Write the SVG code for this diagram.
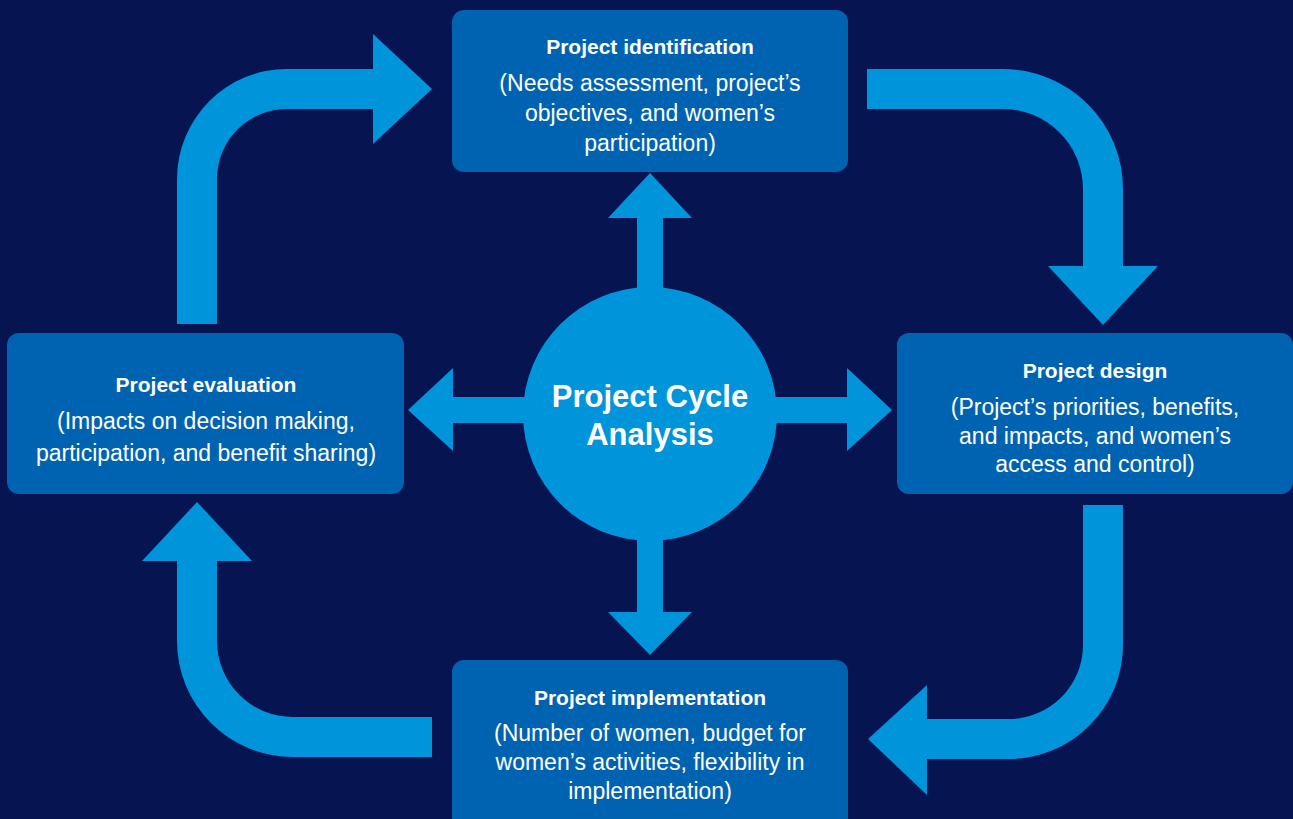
<svg xmlns="http://www.w3.org/2000/svg" width="1293" height="819" viewBox="0 0 1293 819">
<style>
.bg{fill:#061452}
.box{fill:#0063b1}
.arr{fill:#0095da}
.hub{fill:#0095da}
.t{font-family:"Liberation Sans",Arial,sans-serif;font-weight:bold;font-size:21px;fill:#ffffff;text-anchor:middle}
.b{font-family:"Liberation Sans",Arial,sans-serif;font-size:23px;fill:#ffffff;text-anchor:middle}
.c{font-family:"Liberation Sans",Arial,sans-serif;font-weight:bold;font-size:31px;fill:#ffffff;text-anchor:middle}
</style>
<rect class="bg" x="0" y="0" width="1293" height="819"/>
<g id="connectors">
<path class="arr" d="M177,324 L177,179 A110,110 0 0 1 287,69 L373,69 L373,34 L432,89 L373,144 L373,109 L287,109 A70,70 0 0 0 217,179 L217,324 Z"/>
<path class="arr" d="M867,69 L1003,69 A120,120 0 0 1 1123,189 L1123,266 L1158,266 L1103,325 L1048,266 L1083,266 L1083,189 A80,80 0 0 0 1003,109 L867,109 Z"/>
<path class="arr" d="M1083,505 L1123,505 L1123,645 A114,114 0 0 1 1009,759 L927,759 L927,795 L868,739 L927,685 L927,719 L1009,719 A74,74 0 0 0 1083,645 Z"/>
<path class="arr" d="M432,717 L432,757 L293,757 A116,116 0 0 1 177,641 L177,561 L142,561 L197,502 L252,561 L217,561 L217,641 A76,76 0 0 0 293,717 Z"/>
<path class="arr" d="M637,300 L637,218 L608,218 L650,173 L692,218 L663,218 L663,300 Z"/>
<path class="arr" d="M637,530 L637,612 L608,612 L650,655 L692,612 L663,612 L663,530 Z"/>
<path class="arr" d="M535,397 L453,397 L453,368 L408,410 L453,451 L453,423 L535,423 Z"/>
<path class="arr" d="M765,397 L847,397 L847,368 L892,410 L847,451 L847,423 L765,423 Z"/>
</g>
<g id="hub">
<circle class="hub" cx="650" cy="414" r="127"/>
<text class="c" x="650" y="407">Project Cycle</text>
<text class="c" x="650" y="445">Analysis</text>
</g>
<g id="identification">
<rect class="box" x="452" y="10" width="396" height="162" rx="12"/>
<text class="t" x="650" y="54">Project identification</text>
<text class="b" x="650" y="91">(Needs assessment, project’s</text>
<text class="b" x="650" y="121">objectives, and women’s</text>
<text class="b" x="650" y="151">participation)</text>
</g>
<g id="design">
<rect class="box" x="897" y="333" width="396" height="161" rx="12"/>
<text class="t" x="1095" y="378">Project design</text>
<text class="b" x="1095" y="415">(Project’s priorities, benefits,</text>
<text class="b" x="1095" y="444">and impacts, and women’s</text>
<text class="b" x="1095" y="472">access and control)</text>
</g>
<g id="implementation">
<rect class="box" x="452" y="660" width="396" height="175" rx="12"/>
<text class="t" x="650" y="705">Project implementation</text>
<text class="b" x="650" y="741">(Number of women, budget for</text>
<text class="b" x="650" y="770">women’s activities, flexibility in</text>
<text class="b" x="650" y="799">implementation)</text>
</g>
<g id="evaluation">
<rect class="box" x="7" y="333" width="397" height="161" rx="12"/>
<text class="t" x="206" y="392">Project evaluation</text>
<text class="b" x="206" y="429">(Impacts on decision making,</text>
<text class="b" x="206" y="461">participation, and benefit sharing)</text>
</g>
</svg>
